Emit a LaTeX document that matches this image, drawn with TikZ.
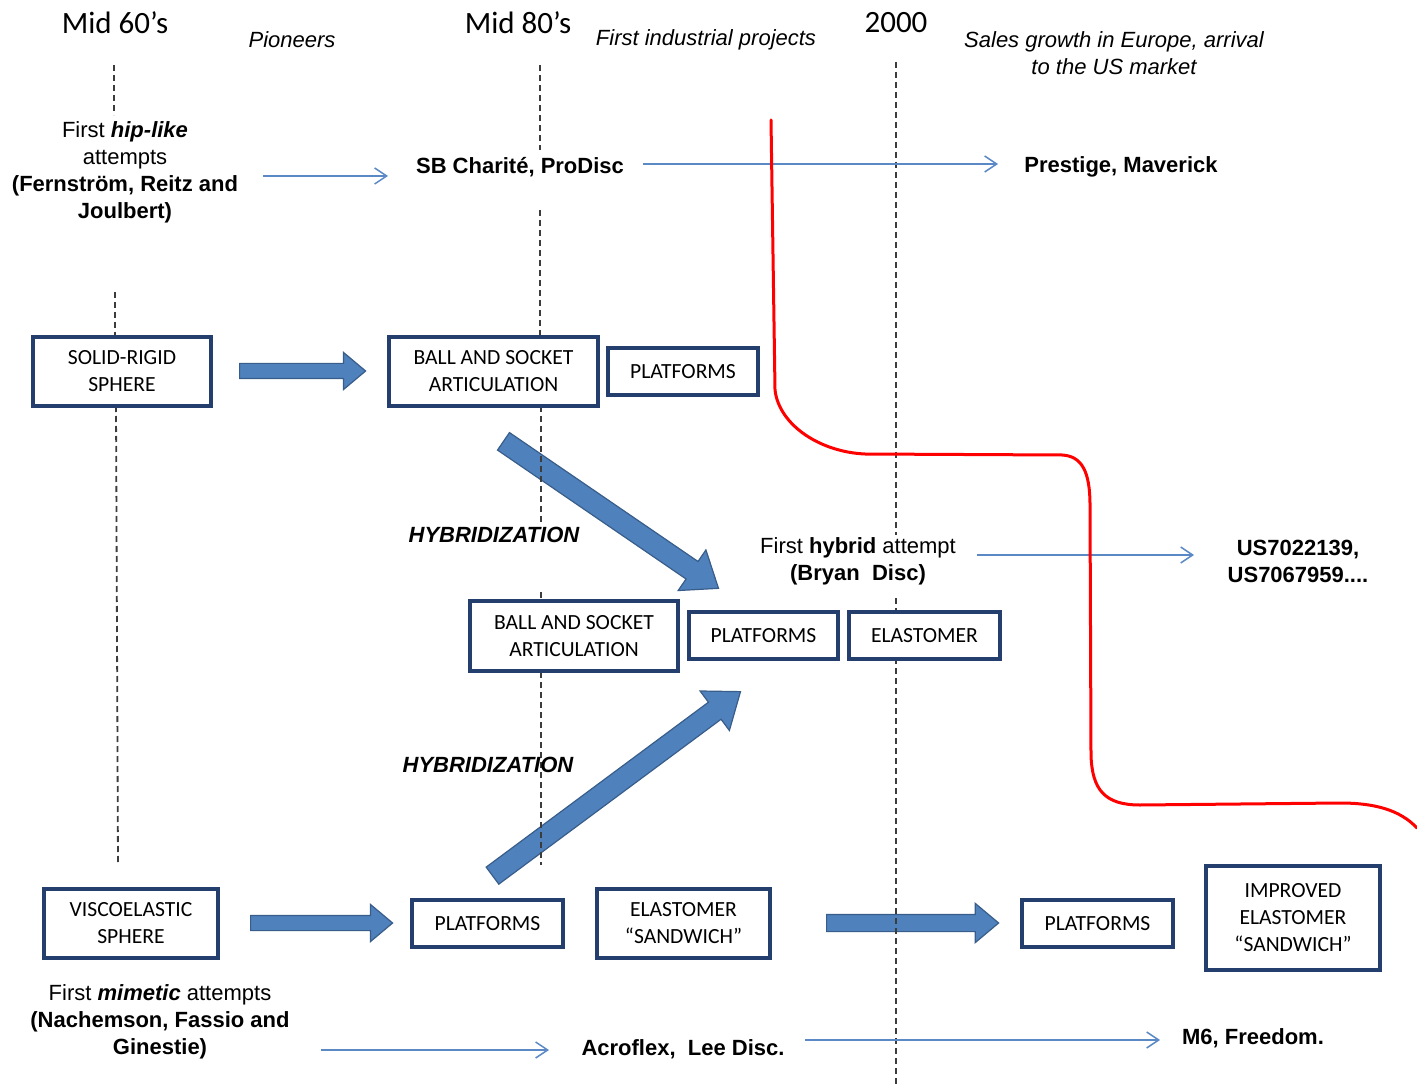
\documentclass[tikz,border=0pt]{standalone}
\usepackage{fontspec}
\setmainfont{Liberation Sans}
\newfontfamily\calfont{Carlito}
\usetikzlibrary{arrows.meta,shapes.arrows,calc}
\definecolor{boxblue}{RGB}{36,62,110}
\definecolor{arrowfill}{RGB}{79,129,189}
\definecolor{arrowedge}{RGB}{56,93,138}
\definecolor{thinblue}{RGB}{91,137,198}
\definecolor{dashgray}{RGB}{60,60,60}
\newcommand\blockarrow[3][]{\path let \p1=(#2), \p2=(#3), \n1={atan2(\y2-\y1,\x2-\x1)}, \n2={veclen(\x2-\x1,\y2-\y1)} in node[blk,#1,minimum height=\n2,rotate=\n1,anchor=tail] at (\p1) {};}
\begin{document}
\begin{tikzpicture}[x=0.5pt,y=-0.5pt,
  every node/.style={inner sep=0pt, align=center, font=\fontsize{11}{13.5}\selectfont},
  year/.style={font=\calfont\fontsize{15.5}{18}\selectfont},
  era/.style={font=\itshape\fontsize{11}{13.5}\selectfont},
  bold/.style={font=\bfseries\fontsize{11}{13.5}\selectfont},
  hyblab/.style={font=\bfseries\itshape\fontsize{11}{13.5}\selectfont},
  bx/.style={draw=boxblue, line width=1.8pt, fill=white, text=black, font=\calfont\fontsize{10.8}{13.5}\selectfont},
  tl/.style={dash pattern=on 3pt off 2pt, draw=dashgray, line width=0.9pt},
  thinarrow/.style={draw=thinblue, line width=0.75pt, -{Straight Barb[length=6pt,width=8pt]}},
  blk/.style={single arrow, draw=arrowedge, fill=arrowfill, line width=0.6pt, inner xsep=0pt, inner ysep=3.5pt, single arrow head extend=5.5pt, single arrow tip angle=80},
  blkd/.style={inner ysep=5pt, single arrow head extend=7pt, single arrow tip angle=75}
]
\useasboundingbox (0,0) rectangle (1417,1090);

% block arrow end points
\coordinate (a1s) at (239,371); \coordinate (a1e) at (365,371);
\coordinate (a2s) at (250,923); \coordinate (a2e) at (392,923);
\coordinate (a3s) at (826,923); \coordinate (a3e) at (998,923);
\coordinate (d1s) at (503,441); \coordinate (d1e) at (718,588);
\coordinate (d2s) at (492,876); \coordinate (d2e) at (740,692);

\blockarrow[name=ba1]{a1s}{a1e}
\blockarrow[name=ba2]{a2s}{a2e}
\blockarrow[name=ba3,inner ysep=4pt]{a3s}{a3e}
\blockarrow[name=bd1,blkd]{d1s}{d1e}
\blockarrow[name=bd2,blkd]{d2s}{d2e}

% timeline dashed lines
\draw[tl] (114,65) -- (114,115);
\draw[tl] (115,292) -- (115,337);
\draw[tl] (116,406) -- (118,865);
\draw[tl] (540,65) -- (540,150);
\draw[tl] (540,210) -- (540,337);
\draw[tl] (541,406) -- (541,522);
\draw[tl] (541,592) -- (541,865);
\draw[tl] (896,62) -- (896,535);
\draw[tl] (896,598) -- (896,1085);

% headings
\node[year] (y60) at (115,23) {Mid 60’s};
\node[year] (y80) at (518,23) {Mid 80’s};
\node[year] (y00) at (896,23) {2000};
\node[era] (e1) at (292,40) {Pioneers};
\node[era] (e2) at (706,40) {First industrial projects};
\node[era] (e3) at (1114,53) {Sales growth in Europe, arrival\\to the US market};

% texts
\node (hip) at (125,172) {First \textbf{\textit{hip-like}}\\attempts\\\textbf{(Fernström, Reitz and}\\\textbf{Joulbert)}};
\node[bold] (sb) at (520,167) {SB Charité, ProDisc};
\node[bold] (pm) at (1121,167) {Prestige, Maverick};
\node (hyb) at (858,561) {First \textbf{hybrid} attempt\\\textbf{(Bryan\ \ Disc)}};
\node[bold] (us) at (1298,561) {US7022139,\\US7067959....};
\node[hyblab] (hz1) at (494,535) {HYBRIDIZATION};
\node[hyblab] (hz2) at (488,765) {HYBRIDIZATION};
\node (mim) at (160,1022) {First \textbf{\textit{mimetic}} attempts\\\textbf{(Nachemson, Fassio and}\\\textbf{Ginestie)}};
\node[bold] (acr) at (683,1049) {Acroflex,\ \ Lee Disc.};
\node[bold] (m6) at (1253,1038) {M6, Freedom.};

% thin arrows
\coordinate (t1s) at (263,176); \coordinate (t1e) at (388,176);
\coordinate (t2s) at (643,164); \coordinate (t2e) at (998,164);
\coordinate (t3s) at (977,555); \coordinate (t3e) at (1194,555);
\coordinate (t4s) at (321,1050); \coordinate (t4e) at (549,1050);
\coordinate (t5s) at (805,1040); \coordinate (t5e) at (1160,1040);
\draw[thinarrow] (t1s) -- (t1e);
\draw[thinarrow] (t2s) -- (t2e);
\draw[thinarrow] (t3s) -- (t3e);
\draw[thinarrow] (t4s) -- (t4e);
\draw[thinarrow] (t5s) -- (t5e);

% red boundary curve
\draw[red, line width=1.5pt, line cap=round] (771,120) -- (775,390)
  .. controls (779,425) and (820,452) .. (865,454) -- (1062,455)
  .. controls (1082,456) and (1090,472) .. (1090,505) -- (1091,755)
  .. controls (1092,790) and (1105,805) .. (1140,805) -- (1340,803)
  .. controls (1375,803) and (1400,810) .. (1417,828);

% boxes
\node[bx, minimum width=89pt, minimum height=34.5pt] (srs) at (122,371.5) {SOLID-RIGID\\SPHERE};
\node[bx, minimum width=104.5pt, minimum height=34.5pt] (bs1) at (493.5,371.5) {BALL AND SOCKET\\ARTICULATION};
\node[bx, minimum width=75pt, minimum height=23.5pt] (pl1) at (683,371.5) {PLATFORMS};
\node[bx, minimum width=104pt, minimum height=35pt] (bs2) at (574,636) {BALL AND SOCKET\\ARTICULATION};
\node[bx, minimum width=74.5pt, minimum height=23.5pt] (pl2) at (763.5,635.5) {PLATFORMS};
\node[bx, minimum width=75.5pt, minimum height=23.5pt] (el) at (924.5,635.5) {ELASTOMER};
\node[bx, minimum width=87pt, minimum height=34.5pt] (vs) at (131,923.5) {VISCOELASTIC\\SPHERE};
\node[bx, minimum width=75.5pt, minimum height=23.5pt] (pl3) at (487.5,923.5) {PLATFORMS};
\node[bx, minimum width=86.5pt, minimum height=34.5pt] (es) at (683.5,923.5) {ELASTOMER\\“SANDWICH”};
\node[bx, minimum width=75.5pt, minimum height=23.5pt] (pl4) at (1097.5,923.5) {PLATFORMS};
\node[bx, minimum width=87pt, minimum height=52pt] (ies) at (1293,918) {IMPROVED\\ELASTOMER\\“SANDWICH”};
\end{tikzpicture}
\end{document}
